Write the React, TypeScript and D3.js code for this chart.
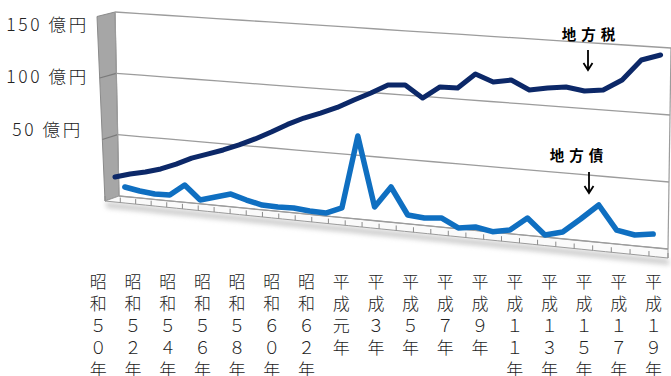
import React from "react";
import * as d3 from "d3";

// Fiscal years 昭和50年 (1975) … 平成19年 (2007)
const fiscalYears = [
  1975, 1976, 1977, 1978, 1979, 1980, 1981, 1982, 1983, 1984, 1985,
  1986, 1987, 1988, 1989, 1990, 1991, 1992, 1993, 1994, 1995, 1996,
  1997, 1998, 1999, 2000, 2001, 2002, 2003, 2004, 2005, 2006, 2007,
];

// 地方税 (億円)
const localTax = [
  15.2, 18.8, 21.6, 25.2, 30.2, 36.2, 40.6, 45.0, 50.1, 56.0, 62.6,
  69.7, 75.8, 80.8, 86.2, 93.1, 99.6, 106.8, 107.8, 98.7, 108.3, 108.5,
  120.3, 115.1, 117.6, 111.0, 113.5, 115.3, 113.3, 115.1, 123.6, 139.6, 144.3,
];

// 地方債 (億円)
const localDebt = [
  7.8, 5.7, 4.4, 4.8, 14.0, 3.1, 6.7, 10.2, 6.6, 3.8, 3.4,
  3.9, 2.7, 2.3, 7.5, 65.1, 10.7, 27.5, 6.9, 5.8, 7.1, 0.6,
  2.6, 0.3, 2.9, 13.3, 1.6, 5.2, 16.3, 28.1, 10.5, 8.1, 10.1,
];

const gridValues = [0, 50, 100, 150];
const axisLabels = [150, 100, 50];

const yearLabels = [
  "昭和５０年", "昭和５２年", "昭和５４年", "昭和５６年", "昭和５８年",
  "昭和６０年", "昭和６２年", "平成元年", "平成３年", "平成５年",
  "平成７年", "平成９年", "平成１１年", "平成１３年", "平成１５年",
  "平成１７年", "平成１９年",
];

const W = 671;
const H = 376;

// back wall corners of the 3-D plot area
const BL: [number, number] = [119, 196];
const BR: [number, number] = [668, 249];
const TL: [number, number] = [115, 12];
const TR: [number, number] = [671, 48];
const PERSP = 1.12; // near/far ratio along the category direction

const FONT = "'Noto Sans CJK JP', 'Noto Sans', sans-serif";

export default function App() {
  const persp = (u: number) => u / (u + PERSP * (1 - u));

  // (u along categories, v along value) -> screen, w = depth toward viewer
  const project = (u: number, v: number, w = 0): [number, number] => {
    const f = persp(u);
    const bx = BL[0] + f * (BR[0] - BL[0]);
    const by = BL[1] + f * (BR[1] - BL[1]);
    const tx = TL[0] + f * (TR[0] - TL[0]);
    const ty = TL[1] + f * (TR[1] - TL[1]);
    const x = bx + v * (tx - bx) + w * (-14 + 14 * f);
    const y = by + v * (ty - by) + w * (5 + 4 * f);
    return [x, y];
  };

  const vScale = d3.scaleLinear().domain([0, 150]).range([0, 1]);
  const n = fiscalYears.length;
  const uTax = d3.scaleLinear().domain([0, n - 1]).range([-0.0074, 0.9834]);
  const uDebt = d3.scaleLinear().domain([0, n - 1]).range([0.0123, 0.9755]);

  const line = d3
    .line<[number, number]>()
    .x((d) => d[0])
    .y((d) => d[1]);

  const taxPts = localTax.map((v, i) => project(uTax(i), vScale(v)));
  const debtPts = localDebt.map((v, i) => project(uDebt(i), vScale(v)));

  // grid lines across the back wall
  const gridLines = gridValues.map((g) => {
    const pts = d3.range(0, 1.0001, 0.05).map((u) => project(u, vScale(g)));
    return line(pts as [number, number][]);
  });

  // left side panel (gray)
  const sideDepth = (v: number): [number, number] => [-14 - 4 * v, 5 - 0.5 * v];
  const sideTopBack = project(0, 1);
  const sideBotBack = project(0, 0);
  const sd1 = sideDepth(1);
  const sd0 = sideDepth(0);
  const sidePoly = [
    sideTopBack,
    [sideTopBack[0] + sd1[0], sideTopBack[1] + sd1[1]],
    [sideBotBack[0] + sd0[0], sideBotBack[1] + sd0[1]],
    sideBotBack,
  ];

  // floor band
  const us = d3.range(0, 1.0001, 0.02);
  const floorBack = us.map((u) => project(u, 0));
  const floorFront = us.map((u) => project(u, 0, 1));
  const floorPoly = [...floorBack, ...floorFront.slice().reverse()];
  const shadowPoly = [
    ...floorFront.map(([x, y]) => [x, y + 1]),
    ...floorFront.slice().reverse().map(([x, y]) => [x + 2, y + 7]),
  ];
  const tickUs = d3.range(0, n + 1).map((k) => k / n);

  const labelX = d3.scalePoint<string>().domain(yearLabels).range([98.3, 653.5]);
  const labelRowY = d3.scaleLinear().domain([0, 4]).range([280, 368.8]);
  const axisLabelY = d3.scaleLinear().domain([50, 150]).range([128, 23]);

  const poly = (pts: number[][]) => pts.map((p) => p.join(",")).join(" ");

  const arrow = (x: number, y0: number, y1: number) =>
    `M${x},${y0}L${x},${y1}M${x - 4.5},${y1 - 7}L${x},${y1}L${x + 4.5},${y1 - 7}`;

  return (
    <div style={{ position: "absolute", left: 0, top: 0 }}>
      <svg width={W} height={H} style={{ display: "block", background: "#fff" }}>
        <defs>
          <filter id="floorShadow" x="-5%" y="-100%" width="110%" height="300%">
            <feGaussianBlur stdDeviation="2.5" />
          </filter>
        </defs>

        {/* back wall */}
        <polygon points={poly([BL, BR, TR, TL])} fill="#fff" />

        {/* side panel */}
        <polygon points={poly(sidePoly)} fill="#a6a6a6" stroke="#8a8a8a" strokeWidth={1} />
        {[50, 100].map((g) => {
          const [x, y] = project(0, vScale(g));
          const d = sideDepth(vScale(g));
          return (
            <line key={g} x1={x} y1={y} x2={x + d[0]} y2={y + d[1]} stroke="#7a7a7a" strokeWidth={1.2} />
          );
        })}

        {/* floor shadow */}
        <polygon points={poly(shadowPoly)} fill="#9a9a9a" opacity={0.5} filter="url(#floorShadow)" />
        {/* floor */}
        <polygon points={poly(floorPoly)} fill="#fafafa" stroke="#9a9a9a" strokeWidth={1} />
        {tickUs.map((u, i) => {
          const [x, y] = project(u, 0, 1);
          return <line key={i} x1={x} y1={y} x2={x} y2={y - 5} stroke="#8a8a8a" strokeWidth={1} />;
        })}

        {/* grid lines */}
        {gridLines.map((d, i) => (
          <path key={i} d={d || ""} fill="none" stroke="#9c9c9c" strokeWidth={1.3} />
        ))}
        {/* wall edges */}
        <line x1={TL[0]} y1={TL[1]} x2={BL[0]} y2={BL[1]} stroke="#9c9c9c" strokeWidth={1.2} />
        <line x1={TR[0]} y1={TR[1]} x2={BR[0]} y2={BR[1]} stroke="#9c9c9c" strokeWidth={1.2} />

        {/* series */}
        <path
          d={line(taxPts) || ""}
          fill="none"
          stroke="#0c2868"
          strokeWidth={5}
          strokeLinejoin="round"
          strokeLinecap="round"
        />
        <path
          d={line(debtPts) || ""}
          fill="none"
          stroke="#0f6fc1"
          strokeWidth={5.5}
          strokeLinejoin="round"
          strokeLinecap="round"
        />

        {/* value axis labels */}
        {axisLabels.map((v) => (
          <text
            key={v}
            x={47.5}
            y={axisLabelY(v)}
            textAnchor="middle"
            dominantBaseline="central"
            fontFamily={FONT}
            fontWeight={300}
            fontSize={17.5}
            letterSpacing={2.6}
            fill="#222"
          >
            {`${v} 億円`}
          </text>
        ))}

        {/* category labels, stacked vertically */}
        {yearLabels.map((lab) => (
          <g key={lab}>
            {Array.from(lab).map((ch, j) => (
              <text
                key={j}
                x={labelX(lab)}
                y={labelRowY(j)}
                textAnchor="middle"
                dominantBaseline="central"
                fontFamily={FONT}
                fontWeight={300}
                fontSize={17}
                fill="#222"
              >
                {ch}
              </text>
            ))}
          </g>
        ))}

        {/* series annotations */}
        <text
          x={591}
          y={33}
          textAnchor="middle"
          dominantBaseline="central"
          fontFamily={FONT}
          fontWeight={700}
          fontSize={14.5}
          letterSpacing={5}
          fill="#000"
        >
          地方税
        </text>
        <path d={arrow(588, 50, 70)} fill="none" stroke="#000" strokeWidth={1.8} />
        <text
          x={579}
          y={154}
          textAnchor="middle"
          dominantBaseline="central"
          fontFamily={FONT}
          fontWeight={700}
          fontSize={14.5}
          letterSpacing={5}
          fill="#000"
        >
          地方債
        </text>
        <path d={arrow(589, 172, 193)} fill="none" stroke="#000" strokeWidth={1.8} />
      </svg>
    </div>
  );
}
